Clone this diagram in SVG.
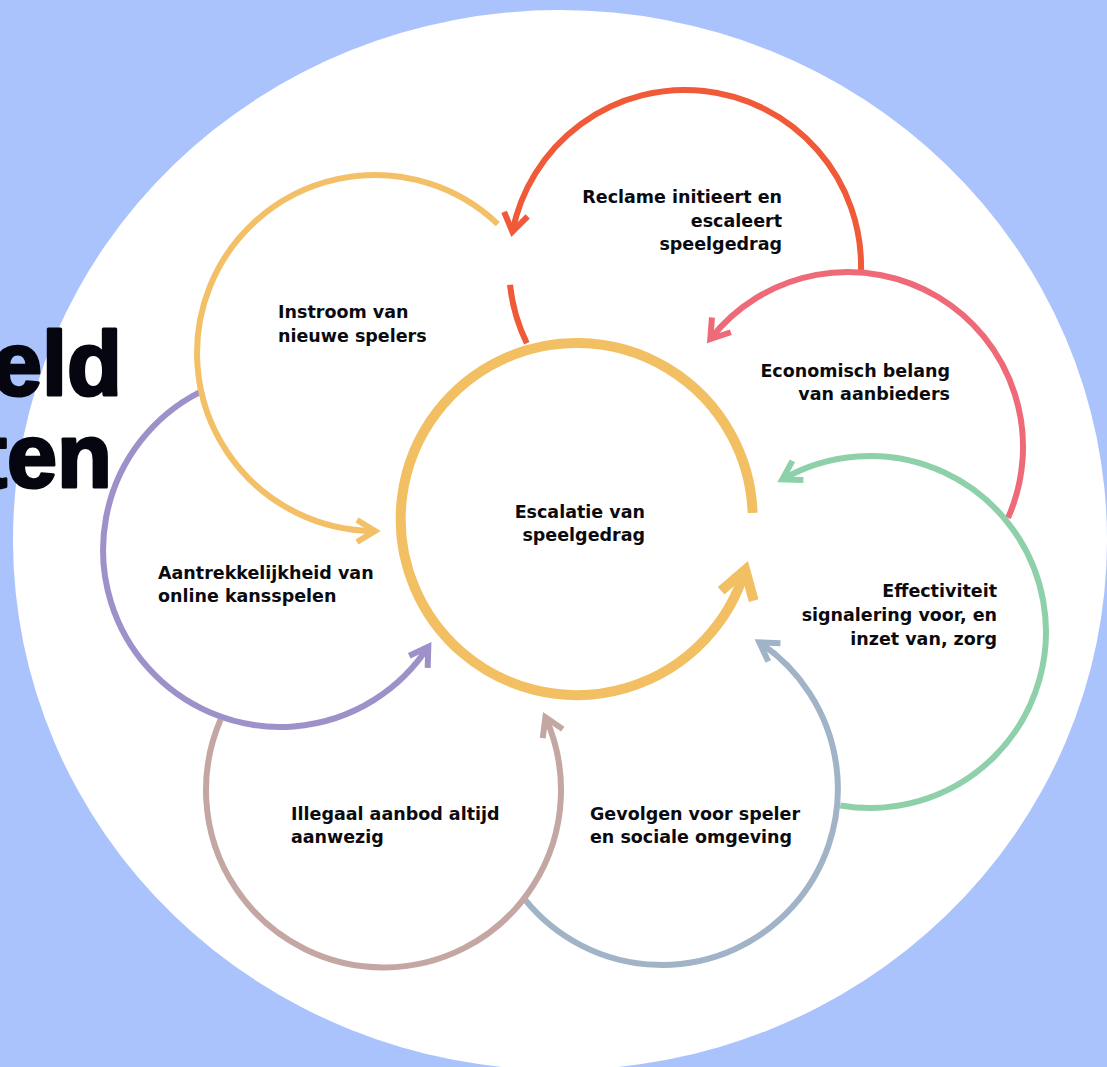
<svg xmlns="http://www.w3.org/2000/svg" width="1107" height="1067" viewBox="0 0 1107 1067">
  <style>
    .lbl { font-family: "DejaVu Sans", "Liberation Sans", sans-serif; font-weight: bold; font-size: 17.5px; fill: #0b0b0f; }
    .big { font-family: "Liberation Sans", Arial, sans-serif; font-weight: bold; font-size: 90px; fill: #05060f; stroke: #05060f; stroke-width: 3; stroke-linejoin: round; }
    .arc { fill: none; stroke-width: 6; stroke-linecap: butt; }
  </style>
  <defs>
    <marker id="ah-yellow-big" viewBox="-45 -30 60 60" markerUnits="userSpaceOnUse" markerWidth="60" markerHeight="60" refX="0" refY="0" orient="auto">
      <path d="M-27,-17 L0,0 L-27,17" fill="none" stroke="#F2BF63" stroke-width="10" stroke-linejoin="miter"/>
    </marker>
    <marker id="ah-yellow" viewBox="-30 -20 40 40" markerUnits="userSpaceOnUse" markerWidth="40" markerHeight="40" refX="0" refY="0" orient="auto">
      <path d="M-18,-11 L0,0 L-18,11" fill="none" stroke="#F3C068" stroke-width="6" stroke-linejoin="miter"/>
    </marker>
    <marker id="ah-red" viewBox="-30 -20 40 40" markerUnits="userSpaceOnUse" markerWidth="40" markerHeight="40" refX="0" refY="0" orient="auto">
      <path d="M-18,-12 L0,0 L-18,12" fill="none" stroke="#F05A38" stroke-width="6" stroke-linejoin="miter"/>
    </marker>
    <marker id="ah-pink" viewBox="-30 -20 40 40" markerUnits="userSpaceOnUse" markerWidth="40" markerHeight="40" refX="0" refY="0" orient="auto">
      <path d="M-18,-12 L0,0 L-18,12" fill="none" stroke="#EE6A78" stroke-width="6" stroke-linejoin="miter"/>
    </marker>
    <marker id="ah-green" viewBox="-30 -20 40 40" markerUnits="userSpaceOnUse" markerWidth="40" markerHeight="40" refX="0" refY="0" orient="auto">
      <path d="M-18,-11 L0,0 L-18,11" fill="none" stroke="#8DD0A9" stroke-width="6" stroke-linejoin="miter"/>
    </marker>
    <marker id="ah-grey" viewBox="-30 -20 40 40" markerUnits="userSpaceOnUse" markerWidth="40" markerHeight="40" refX="0" refY="0" orient="auto">
      <path d="M-18,-11 L0,0 L-18,11" fill="none" stroke="#A0B3C7" stroke-width="6" stroke-linejoin="miter"/>
    </marker>
    <marker id="ah-brown" viewBox="-30 -20 40 40" markerUnits="userSpaceOnUse" markerWidth="40" markerHeight="40" refX="0" refY="0" orient="auto">
      <path d="M-18,-11 L0,0 L-18,11" fill="none" stroke="#C4A7A3" stroke-width="6" stroke-linejoin="miter"/>
    </marker>
    <marker id="ah-purple" viewBox="-30 -20 40 40" markerUnits="userSpaceOnUse" markerWidth="40" markerHeight="40" refX="0" refY="0" orient="auto">
      <path d="M-18,-11 L0,0 L-18,11" fill="none" stroke="#9E90C8" stroke-width="6" stroke-linejoin="miter"/>
    </marker>
  </defs>

  <rect x="0" y="0" width="1107" height="1067" fill="#ABC3FD"/>
  <ellipse cx="560" cy="540" rx="547" ry="530" fill="#FFFFFF"/>

  <g id="title">
    <text class="big" x="122" y="395" text-anchor="end">eld</text>
    <text class="big" x="112" y="487" text-anchor="end">ten</text>
  </g>

  <g id="connectors">
    <path id="c-reclame" class="arc" stroke="#F05A38" d="M861,270 A176,176 0 0 0 512.4,231.8" marker-end="url(#ah-red)"/>
    <path id="c-reclame-tail" class="arc" stroke="#F05A38" d="M510,284.7 A176,176 0 0 0 526.8,343.2"/>
    <path id="c-economisch" class="arc" stroke="#EE6A78" d="M1008,517.9 A175,175 0 0 0 710.3,339" marker-end="url(#ah-pink)"/>
    <path id="c-effectiviteit" class="arc" stroke="#8DD0A9" d="M840.3,805.5 A176,176 0 1 0 782.3,479.4" marker-end="url(#ah-green)"/>
    <path id="c-gevolgen" class="arc" stroke="#A0B3C7" d="M525.2,899.8 A176,176 0 1 0 759.4,642.4" marker-end="url(#ah-grey)"/>
    <path id="c-illegaal" class="arc" stroke="#C4A7A3" d="M220.6,719.5 A177.5,177.5 0 1 0 545.4,717.2" marker-end="url(#ah-brown)"/>
    <path id="c-aantrekkelijkheid" class="arc" stroke="#9E90C8" d="M199.4,392.4 A177,177 0 1 0 428.3,646.7" marker-end="url(#ah-purple)"/>
    <path id="c-instroom" class="arc" stroke="#F3C068" d="M497.8,224.1 A178,178 0 1 0 375,531" marker-end="url(#ah-yellow)"/>
    <path id="c-escalatie" fill="none" stroke="#F2BF63" stroke-width="10" d="M752.6,512.9 A176,176 0 1 0 745.2,569.9" marker-end="url(#ah-yellow-big)"/>
  </g>

  <g id="node-escalatie">
    <text class="lbl" text-anchor="end"><tspan x="645" y="518">Escalatie van</tspan><tspan x="645" y="541">speelgedrag</tspan></text>
  </g>
  <g id="node-instroom">
    <text class="lbl"><tspan x="278" y="318">Instroom van</tspan><tspan x="278" y="342">nieuwe spelers</tspan></text>
  </g>
  <g id="node-reclame">
    <text class="lbl" text-anchor="end"><tspan x="782" y="203">Reclame initieert en</tspan><tspan x="782" y="227">escaleert</tspan><tspan x="782" y="250">speelgedrag</tspan></text>
  </g>
  <g id="node-economisch">
    <text class="lbl" text-anchor="end"><tspan x="950" y="377">Economisch belang</tspan><tspan x="950" y="400">van aanbieders</tspan></text>
  </g>
  <g id="node-effectiviteit">
    <text class="lbl" text-anchor="end"><tspan x="997" y="597">Effectiviteit</tspan><tspan x="997" y="621">signalering voor, en</tspan><tspan x="997" y="645">inzet van, zorg</tspan></text>
  </g>
  <g id="node-gevolgen">
    <text class="lbl"><tspan x="590" y="820">Gevolgen voor speler</tspan><tspan x="590" y="843">en sociale omgeving</tspan></text>
  </g>
  <g id="node-illegaal">
    <text class="lbl"><tspan x="291" y="820">Illegaal aanbod altijd</tspan><tspan x="291" y="843">aanwezig</tspan></text>
  </g>
  <g id="node-aantrekkelijkheid">
    <text class="lbl"><tspan x="158" y="579">Aantrekkelijkheid van</tspan><tspan x="158" y="602">online kansspelen</tspan></text>
  </g>
</svg>
